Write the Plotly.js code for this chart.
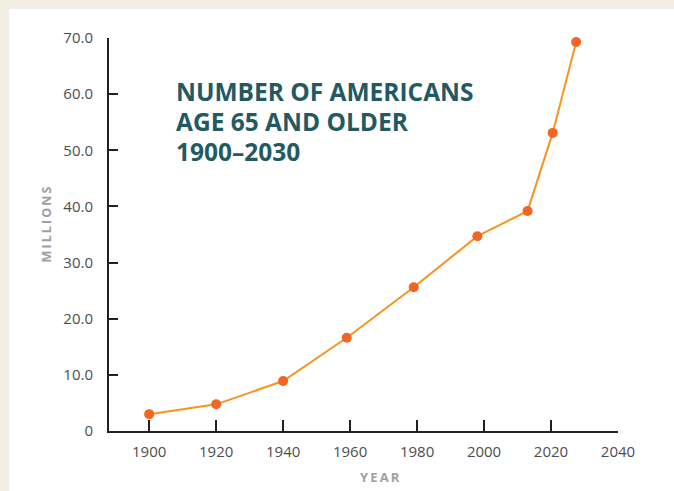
<!DOCTYPE html>
<html>
<head>
<meta charset="utf-8">
<script src="https://cdn.plot.ly/plotly-3.0.1.min.js"></script>
<style>
  html, body { margin: 0; padding: 0; background: #f1eee3; width: 674px; height: 491px; overflow: hidden; }
  #chart { position: absolute; left: 9px; top: 9px; width: 665px; height: 482px; background: #ffffff; }
</style>
</head>
<body>
<div id="chart"></div>
<script>
// Data
const years = [1900, 1920, 1940, 1959, 1979, 1998, 2013, 2020.5, 2027.5];
const millions = [3.0, 4.75, 8.9, 16.6, 25.6, 34.7, 39.2, 53.1, 69.3];

const xTickVals = [1900, 1920, 1940, 1960, 1980, 2000, 2020, 2040];
const xTickText = ["1900", "1920", "1940", "1960", "1980", "2000", "2020", "2040"];
const yTickVals = [0, 10, 20, 30, 40, 50, 60, 70];
const yTickText = ["0", "10.0", "20.0", "30.0", "40.0", "50.0", "60.0", "70.0"];

const titleLines = ["NUMBER OF AMERICANS", "AGE 65 AND OLDER", "1900\u20132030"];
const xTitle = "YEAR";
const yTitle = "MILLIONS";

function spaced(s) { return s.split("").join("\u2009"); }

// plot-area pixel geometry (page coords) used for placing annotations
const PL = 109, PR = 618, PT = 37.5, PB = 430.7;
const px = x => (x - PL) / (PR - PL);
const py = y => (PB - y) / (PB - PT);

const trace = {
  x: years,
  y: millions,
  type: "scatter",
  mode: "lines+markers",
  line: { color: "#f7941d", width: 2 },
  marker: { color: "#f26522", size: 10 },
  cliponaxis: false,
  hoverinfo: "skip"
};

const axisCommon = {
  showgrid: false,
  zeroline: false,
  showline: true,
  linecolor: "#231f20",
  linewidth: 2,
  ticks: "inside",
  tickcolor: "#231f20",
  tickwidth: 2,
  tickfont: { family: "Open Sans, sans-serif", size: 15, color: "#4d4d4d" },
  fixedrange: true
};

const titleAnn = titleLines.map((s, i) => ({
  xref: "paper", yref: "paper",
  x: px(174), y: py(91 + i * 30),
  xanchor: "left", yanchor: "middle",
  align: "left",
  showarrow: false,
  text: "<b>" + s + "</b>",
  font: { family: "Open Sans, sans-serif", size: 24.5, color: "#235a62" }
}));

const layout = {
  width: 665,
  height: 482,
  paper_bgcolor: "#ffffff",
  plot_bgcolor: "#ffffff",
  margin: { l: 100, r: 56, t: 28.5, b: 60.3 },
  showlegend: false,
  xaxis: Object.assign({}, axisCommon, {
    range: [1888, 2040],
    tickmode: "array",
    tickvals: xTickVals,
    ticktext: xTickText,
    ticklen: 11,
    ticklabelstandoff: 6
  }),
  yaxis: Object.assign({}, axisCommon, {
    range: [0, 70],
    tickmode: "array",
    tickvals: yTickVals,
    ticktext: yTickText,
    ticklen: 9,
    ticklabelstandoff: 11
  }),
  annotations: titleAnn.concat([
    {
      xref: "paper", yref: "paper",
      x: px(380), y: py(477),
      xanchor: "center", yanchor: "middle",
      showarrow: false,
      text: "<b>" + spaced(xTitle) + "</b>",
      font: { family: "Open Sans, sans-serif", size: 13, color: "#9d9fa2" }
    },
    {
      xref: "paper", yref: "paper",
      x: px(46), y: py(224),
      xanchor: "center", yanchor: "middle",
      textangle: -90,
      showarrow: false,
      text: "<b>" + spaced(yTitle) + "</b>",
      font: { family: "Open Sans, sans-serif", size: 12.5, color: "#9d9fa2" }
    }
  ])
};

Plotly.newPlot("chart", [trace], layout, { displayModeBar: false, staticPlot: true });
</script>
</body>
</html>
